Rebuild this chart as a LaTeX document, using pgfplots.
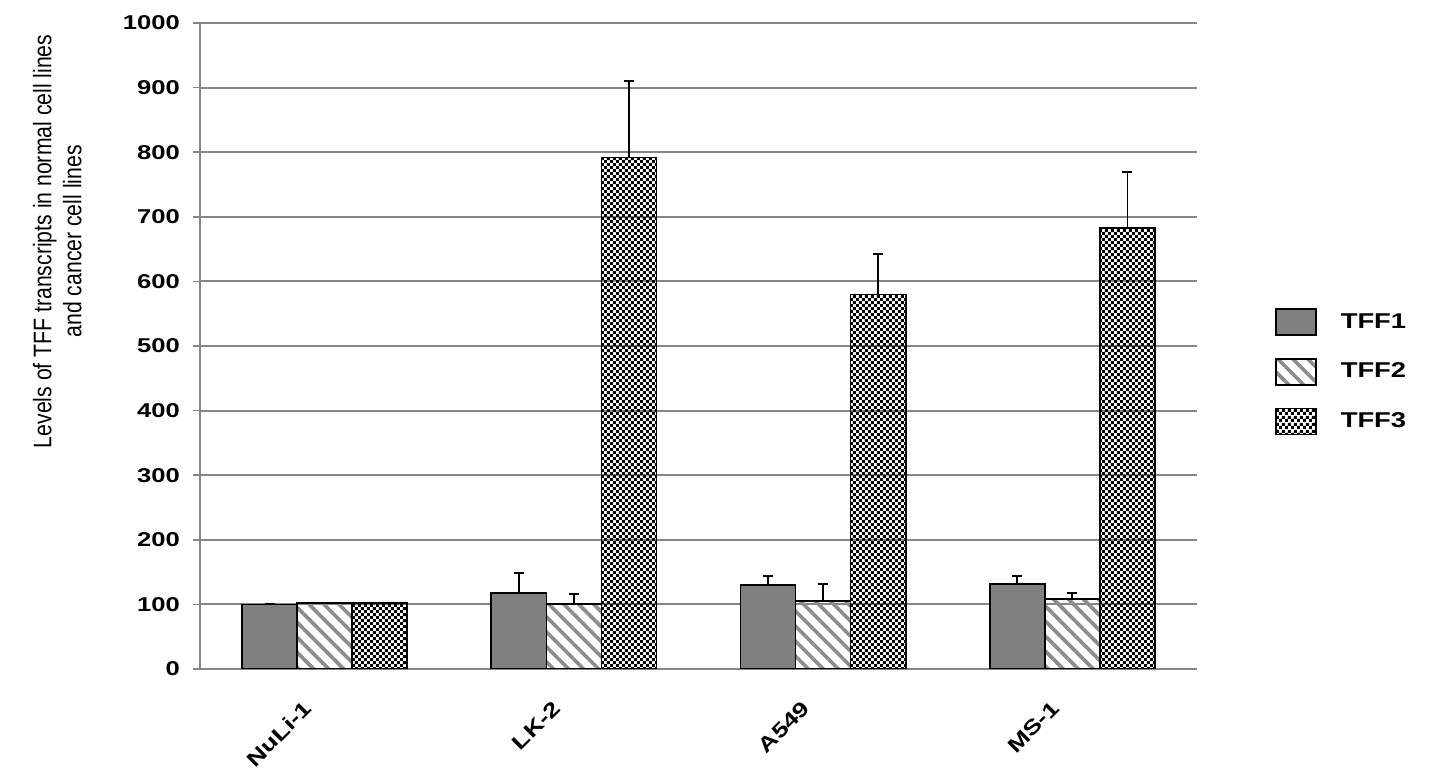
\documentclass[border=0pt]{standalone}
\usepackage{fontspec}
\setmainfont{Liberation Sans}
\usepackage{graphicx}
\usepackage{pgfplots}
\usepackage{pgfplotstable}
\pgfplotsset{compat=1.18}
\usetikzlibrary{patterns,patterns.meta}
\definecolor{gridgray}{RGB}{134,134,134}
\definecolor{barfill}{RGB}{128,128,128}
\definecolor{stripe}{RGB}{140,140,140}
\pgfdeclarepatternformonly{checker}{\pgfqpoint{0pt}{0pt}}{\pgfqpoint{3.2pt}{3.2pt}}{\pgfqpoint{3.2pt}{3.2pt}}{%
  \pgfpathrectangle{\pgfqpoint{0pt}{0pt}}{\pgfqpoint{1.6pt}{1.6pt}}%
  \pgfpathrectangle{\pgfqpoint{1.6pt}{1.6pt}}{\pgfqpoint{1.6pt}{1.6pt}}%
  \pgfusepath{fill}}
\newcommand{\wide}[1]{\scalebox{1.28}[1]{#1}}

% cell line, value, upper error for TFF1/TFF2/TFF3
\pgfplotstableread{
x  t1  e1  t2  e2  t3  e3
0  100 0   102 0   102 0
1  118 31  101 15  792 118
2  130 14  105 26  580 63
3  132 12  108 10  683 86
}\tffdata

\begin{document}
\begin{tikzpicture}
\begin{axis}[
  scale only axis, width=498.5pt, height=323pt,
  xmin=-0.5, xmax=3.5, ymin=0, ymax=1000,
  ytick={0,100,...,1000},
  xtick={0,1,2,3},
  xticklabels={\wide{NuLi-1},\wide{LK-2},\wide{A549},\wide{MS-1}},
  xtick style={draw=none},
  xticklabel style={font=\fontsize{10.3}{12}\bfseries, xshift=-11pt, yshift=-11.5pt, rotate=45, anchor=north east, inner sep=0pt},
  yticklabel={\wide{\pgfmathprintnumber{\tick}}},
  yticklabel style={font=\fontsize{10}{12}\bfseries, xshift=-3pt},
  /pgf/number format/assume math mode=true,
  /pgf/number format/1000 sep={},
  axis x line*=bottom, axis y line*=left,
  axis line style={gridgray, line width=1pt},
  ytick style={gridgray, line width=0.8pt},
  tick align=outside, major tick length=3.5pt,
  ymajorgrids, grid style={gridgray, line width=1pt},
  ylabel={\scalebox{1}[1.2]{\begin{tabular}{c}Levels of TFF transcripts in normal cell lines\\and cancer cell lines\end{tabular}}},
  ylabel style={at={(axis description cs:-0.140,0.662)}, anchor=center, font=\fontsize{10.6}{12.5}\selectfont},
  ybar, bar width=0.221,
  legend style={at={(axis description cs:1.078,0.46)}, anchor=west, draw=none, fill=none,
    inner sep=0pt, row sep=11pt, font=\fontsize{10.7}{12}\bfseries, cells={anchor=west}},
  /tikz/every odd column/.style={column sep=10pt},
  legend image code/.code={\draw[#1, line width=0.8pt] (0pt,-6.5pt) rectangle (20pt,6.5pt);},
  error bars/y dir=plus, error bars/y explicit,
  error bars/error bar style={black, line width=0.9pt},
  error bars/error mark options={black, rotate=90, mark size=2.5pt, line width=0.9pt},
]
\addplot[draw=black, line width=0.8pt, fill=barfill, bar shift=-0.221]
  table[x=x, y=t1, y error=e1] {\tffdata};
\addplot[draw=black, line width=0.8pt, pattern={Lines[angle=-45, distance=5.3pt, line width=1.8pt]}, pattern color=stripe, bar shift=0]
  table[x=x, y=t2, y error=e2] {\tffdata};
\addplot[draw=black, line width=0.8pt, pattern=checker, pattern color=black, bar shift=0.221]
  table[x=x, y=t3, y error=e3] {\tffdata};
\legend{\wide{TFF1}, \wide{TFF2}, \wide{TFF3}}
\coordinate (bl) at (rel axis cs:0,0);
\coordinate (tr) at (rel axis cs:1,1);
\end{axis}
\pgfresetboundingbox
\path ([shift={(-100pt,-53pt)}]bl) rectangle ([shift={(122pt,11.5pt)}]tr);
\end{tikzpicture}
\end{document}
